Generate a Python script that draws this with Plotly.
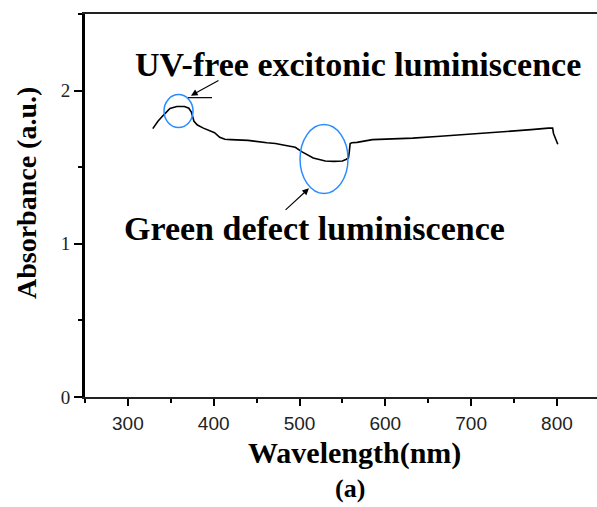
import plotly.graph_objects as go

# Absorbance spectrum
wavelength = [329, 335, 341, 349, 357, 366, 371, 374, 377, 381, 388, 395, 401, 407,
              413, 420, 440, 462, 472, 481, 490, 495, 503, 510, 516, 523, 530, 540,
              550, 554, 557, 558, 559, 561, 567, 585, 600, 632, 660, 690, 710, 730,
              749, 770, 790, 795, 796, 798, 801]
absorbance = [1.752, 1.80, 1.837, 1.883, 1.896, 1.896, 1.885, 1.86, 1.80, 1.775, 1.755,
              1.74, 1.725, 1.695, 1.682, 1.68, 1.675, 1.66, 1.655, 1.645, 1.635, 1.63,
              1.60, 1.58, 1.56, 1.55, 1.54, 1.538, 1.54, 1.55, 1.56, 1.60, 1.655, 1.66,
              1.662, 1.68, 1.683, 1.69, 1.70, 1.712, 1.72, 1.726, 1.735, 1.745, 1.755,
              1.755, 1.72, 1.69, 1.65]

x_ticks = [300, 400, 500, 600, 700, 800]
y_ticks = [0, 1, 2]

label_uv = "UV-free excitonic luminiscence"
label_green = "Green defect luminiscence"

serif = "Liberation Serif"

fig = go.Figure()
fig.add_trace(go.Scatter(x=wavelength, y=absorbance, mode="lines",
                         line=dict(color="black", width=1.6), showlegend=False))

# highlighted regions
fig.add_shape(type="circle", xref="x", yref="y", x0=342.1, x1=375.9, y0=1.759, y1=1.974,
              line=dict(color="#2a8cff", width=1.5))
fig.add_shape(type="circle", xref="x", yref="y", x0=500.6, x1=556.5, y0=1.329, y1=1.778,
              line=dict(color="#2a8cff", width=1.5))
fig.add_shape(type="line", xref="x", yref="y", x0=370, x1=398, y0=1.954, y1=1.954,
              line=dict(color="black", width=1.2))

# arrows
fig.add_annotation(x=373.5, y=1.967, ax=407.3, ay=2.072, xref="x", yref="y",
                   axref="x", ayref="y", text="", showarrow=True,
                   arrowhead=2, arrowsize=1.2, arrowwidth=1.1, arrowcolor="black")
fig.add_annotation(x=511, y=1.362, ax=482, ay=1.212, xref="x", yref="y",
                   axref="x", ayref="y", text="", showarrow=True,
                   arrowhead=2, arrowsize=1.2, arrowwidth=1.1, arrowcolor="black")

bold = dict(family=serif, size=34, color="black", weight="bold")
fig.add_annotation(x=0.534, y=0.869, xref="paper", yref="paper", text=label_uv,
                   showarrow=False, font=bold, xanchor="center", yanchor="middle")
fig.add_annotation(x=0.449, y=0.441, xref="paper", yref="paper", text=label_green,
                   showarrow=False, font=bold, xanchor="center", yanchor="middle")

fig.add_annotation(x=0.526, y=-0.146, xref="paper", yref="paper", text="Wavelength(nm)",
                   showarrow=False, xanchor="center", yanchor="middle",
                   font=dict(family=serif, size=30, color="black", weight="bold"))
fig.add_annotation(x=0.518, y=-0.240, xref="paper", yref="paper", text="(a)",
                   showarrow=False, xanchor="center", yanchor="middle",
                   font=dict(family=serif, size=26, color="black", weight="bold"))
fig.add_annotation(x=-0.113, y=0.533, xref="paper", yref="paper", text="Absorbance (a.u.)",
                   showarrow=False, textangle=-90, xanchor="center", yanchor="middle",
                   font=dict(family=serif, size=28, color="black", weight="bold"))

fig.update_xaxes(range=[250, 846.7], tickvals=x_ticks, ticks="outside", ticklen=7,
                 tickwidth=1.5, tickcolor="black", showline=True, linecolor="#222",
                 linewidth=2, mirror=True, showgrid=False, zeroline=False,
                 ticklabelstandoff=1,
                 tickfont=dict(family="Liberation Sans", size=19, color="#222"),
                 minor=dict(dtick=50, tick0=250, ticks="outside", ticklen=4,
                            tickwidth=1.5, tickcolor="black"))
fig.update_yaxes(range=[0, 2.5], tickvals=y_ticks, ticks="outside", ticklen=8,
                 tickwidth=1.5, tickcolor="black", showline=True, linecolor="black",
                 linewidth=3, showgrid=False, zeroline=False,
                 tickfont=dict(family=serif, size=19, color="#222"),
                 minor=dict(dtick=0.5, tick0=0, ticks="outside", ticklen=4,
                            tickwidth=1.5, tickcolor="black"))

fig.update_layout(width=597, height=507, margin=dict(l=85, r=0, t=14, b=110),
                  plot_bgcolor="white", paper_bgcolor="white")

fig.write_html("out.html")
